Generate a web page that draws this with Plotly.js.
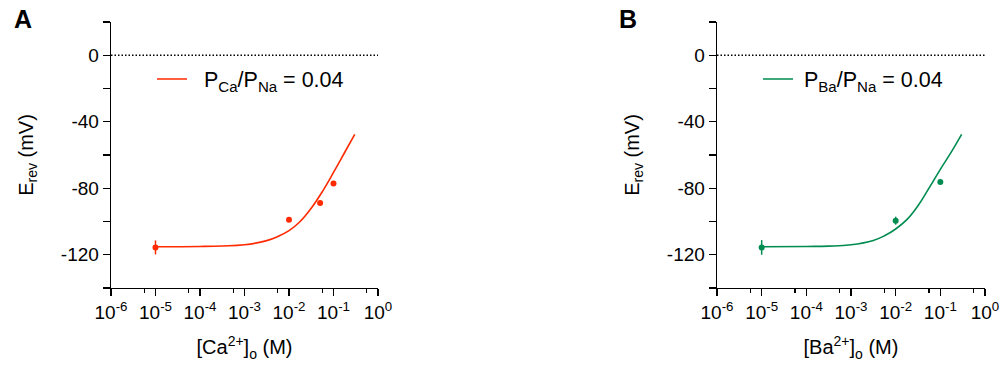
<!DOCTYPE html>
<html><head><meta charset="utf-8">
<script src="https://cdn.plot.ly/plotly-3.0.1.min.js"></script>
<style>html,body{margin:0;padding:0;background:#fff}#chart{width:1004px;height:369px}</style>
</head><body><div id="chart"></div>
<script>
// ---- data ----
const xTickVals = [1e-6, 1e-5, 1e-4, 1e-3, 1e-2, 1e-1, 1];
const xTickText = ['10<sup>-6</sup>', '10<sup>-5</sup>', '10<sup>-4</sup>', '10<sup>-3</sup>', '10<sup>-2</sup>', '10<sup>-1</sup>', '10<sup>0</sup>'];
const xMinorVals = [5.6e-6, 5.6e-5, 5.6e-4, 5.6e-3, 5.6e-2, 5.6e-1];
const yTickVals = [-140, -120, -100, -80, -60, -40, -20, 0, 20];
const yTickText = ['', '-120', '', '-80', '', '-40', '', '0', ''];

const caConc = [1e-5, 1e-2, 5e-2, 1e-1];
const caErev = [-115.6, -98.9, -88.9, -77.2];
const caErr  = [4.2, 0.5, 1.2, 0.6];

const caFitConc = [1e-5, 1e-4, 3.16e-4, 1e-3, 3.16e-3, 5.62e-3, 1e-2, 1.78e-2, 3.16e-2, 5.62e-2, 1e-1, 1.78e-1, 3.0e-1];
const caFitErev = [-115.2, -115.0, -114.7, -114.0, -111.5, -109.0, -105.5, -100.0, -92.0, -82.0, -70.5, -58.5, -47.6];

const baConc = [1e-5, 1e-2, 1e-1];
const baErev = [-115.6, -99.5, -76.2];
const baErr  = [4.4, 2.4, 0.8];

const baFitConc = [1e-5, 1e-4, 3.16e-4, 1e-3, 3.16e-3, 5.62e-3, 1e-2, 1.78e-2, 3.16e-2, 5.62e-2, 1e-1, 1.78e-1, 3.0e-1];
const baFitErev = [-115.2, -115.0, -114.8, -114.0, -111.4, -108.6, -104.5, -98.9, -90.5, -79.8, -68.6, -58.0, -47.6];

const caName = '\u00a0\u00a0P<sub>Ca</sub>/P<sub>Na</sub> = 0.04';
const baName = '\u00a0P<sub>Ba</sub>/P<sub>Na</sub> = 0.04';
const caTitle = '[Ca<sup>2+</sup>]<sub>o</sub> (M)';
const baTitle = '[Ba<sup>2+</sup>]<sub>o</sub> (M)';
const yTitle = 'E<sub>rev</sub> (mV)';

// ---- styles ----
const RED = '#ff2a00';
const GREEN = '#008c50';
const FONT = 'Liberation Sans, Arial, Helvetica, sans-serif';
const W = 1004, H = 369;

function xAxis(domain, title) {
  return {
    type: 'log', range: [-6, 0], domain: domain,
    tickvals: xTickVals, ticktext: xTickText,
    ticks: 'outside', ticklen: 7, tickwidth: 1.3, tickcolor: '#000',
    minor: {tickvals: xMinorVals, ticks: 'outside', ticklen: 4, tickwidth: 1.3, tickcolor: '#000'},
    showline: true, linewidth: 1.3, linecolor: '#000',
    showgrid: false, zeroline: false,
    tickfont: {size: 19, color: '#000'},
    title: {text: title, font: {size: 20, color: '#000'}, standoff: 18},
    fixedrange: true
  };
}
function yAxis(anchor) {
  return {
    range: [-140, 20], domain: [1 - 288 / H, 1 - 22 / H], anchor: anchor,
    tickvals: yTickVals, ticktext: yTickText,
    ticks: 'outside', ticklen: 7, tickwidth: 1.3, tickcolor: '#000',
    showline: true, linewidth: 1.3, linecolor: '#000',
    showgrid: false, zeroline: false,
    tickfont: {size: 19, color: '#000'},
    title: {text: yTitle, font: {size: 20, color: '#000'}, standoff: 22},
    fixedrange: true
  };
}

const traces = [
  {x: caFitConc, y: caFitErev, type: 'scatter', mode: 'lines', line: {color: RED, width: 1.6, shape: 'spline', smoothing: 1.2},
   name: caName, legend: 'legend', xaxis: 'x', yaxis: 'y', hoverinfo: 'skip'},
  {x: caConc, y: caErev, type: 'scatter', mode: 'markers', marker: {color: RED, size: 6},
   error_y: {type: 'data', array: caErr, visible: true, color: RED, thickness: 1.5, width: 0},
   showlegend: false, xaxis: 'x', yaxis: 'y'},
  {x: baFitConc, y: baFitErev, type: 'scatter', mode: 'lines', line: {color: GREEN, width: 1.6, shape: 'spline', smoothing: 1.2},
   name: baName, legend: 'legend2', xaxis: 'x2', yaxis: 'y2', hoverinfo: 'skip'},
  {x: baConc, y: baErev, type: 'scatter', mode: 'markers', marker: {color: GREEN, size: 6},
   error_y: {type: 'data', array: baErr, visible: true, color: GREEN, thickness: 1.5, width: 0},
   showlegend: false, xaxis: 'x2', yaxis: 'y2'}
];

const legendBase = {xanchor: 'left', yanchor: 'middle', y: 1 - 79 / H, font: {size: 21.5, color: '#000', family: FONT},
  bgcolor: 'rgba(0,0,0,0)', borderwidth: 0};

const layout = {
  width: W, height: H,
  margin: {l: 0, r: 0, t: 0, b: 0},
  paper_bgcolor: '#fff', plot_bgcolor: '#fff',
  font: {family: FONT, color: '#000'},
  xaxis: xAxis([111 / W, 378 / W], caTitle),
  yaxis: yAxis('x'),
  xaxis2: Object.assign(xAxis([717 / W, 985 / W], baTitle), {anchor: 'y2'}),
  yaxis2: yAxis('x2'),
  legend: Object.assign({}, legendBase, {x: 152 / W}),
  legend2: Object.assign({}, legendBase, {x: 758 / W}),
  shapes: [
    {type: 'line', xref: 'x domain', x0: 0, x1: 1, yref: 'y', y0: 0, y1: 0, line: {color: '#000', width: 1.4, dash: '1.5px,2px'}},
    {type: 'line', xref: 'x2 domain', x0: 0, x1: 1, yref: 'y2', y0: 0, y1: 0, line: {color: '#000', width: 1.4, dash: '1.5px,2px'}}
  ],
  annotations: [
    {text: '<b>A</b>', xref: 'paper', yref: 'paper', x: 22.5 / W, y: 1 - 19 / H, xanchor: 'center', yanchor: 'middle', showarrow: false, font: {size: 25, color: '#000'}},
    {text: '<b>B</b>', xref: 'paper', yref: 'paper', x: 628 / W, y: 1 - 19 / H, xanchor: 'center', yanchor: 'middle', showarrow: false, font: {size: 25, color: '#000'}}
  ],
  showlegend: true
};

Plotly.newPlot('chart', traces, layout, {staticPlot: true, displayModeBar: false});
</script></body></html>
